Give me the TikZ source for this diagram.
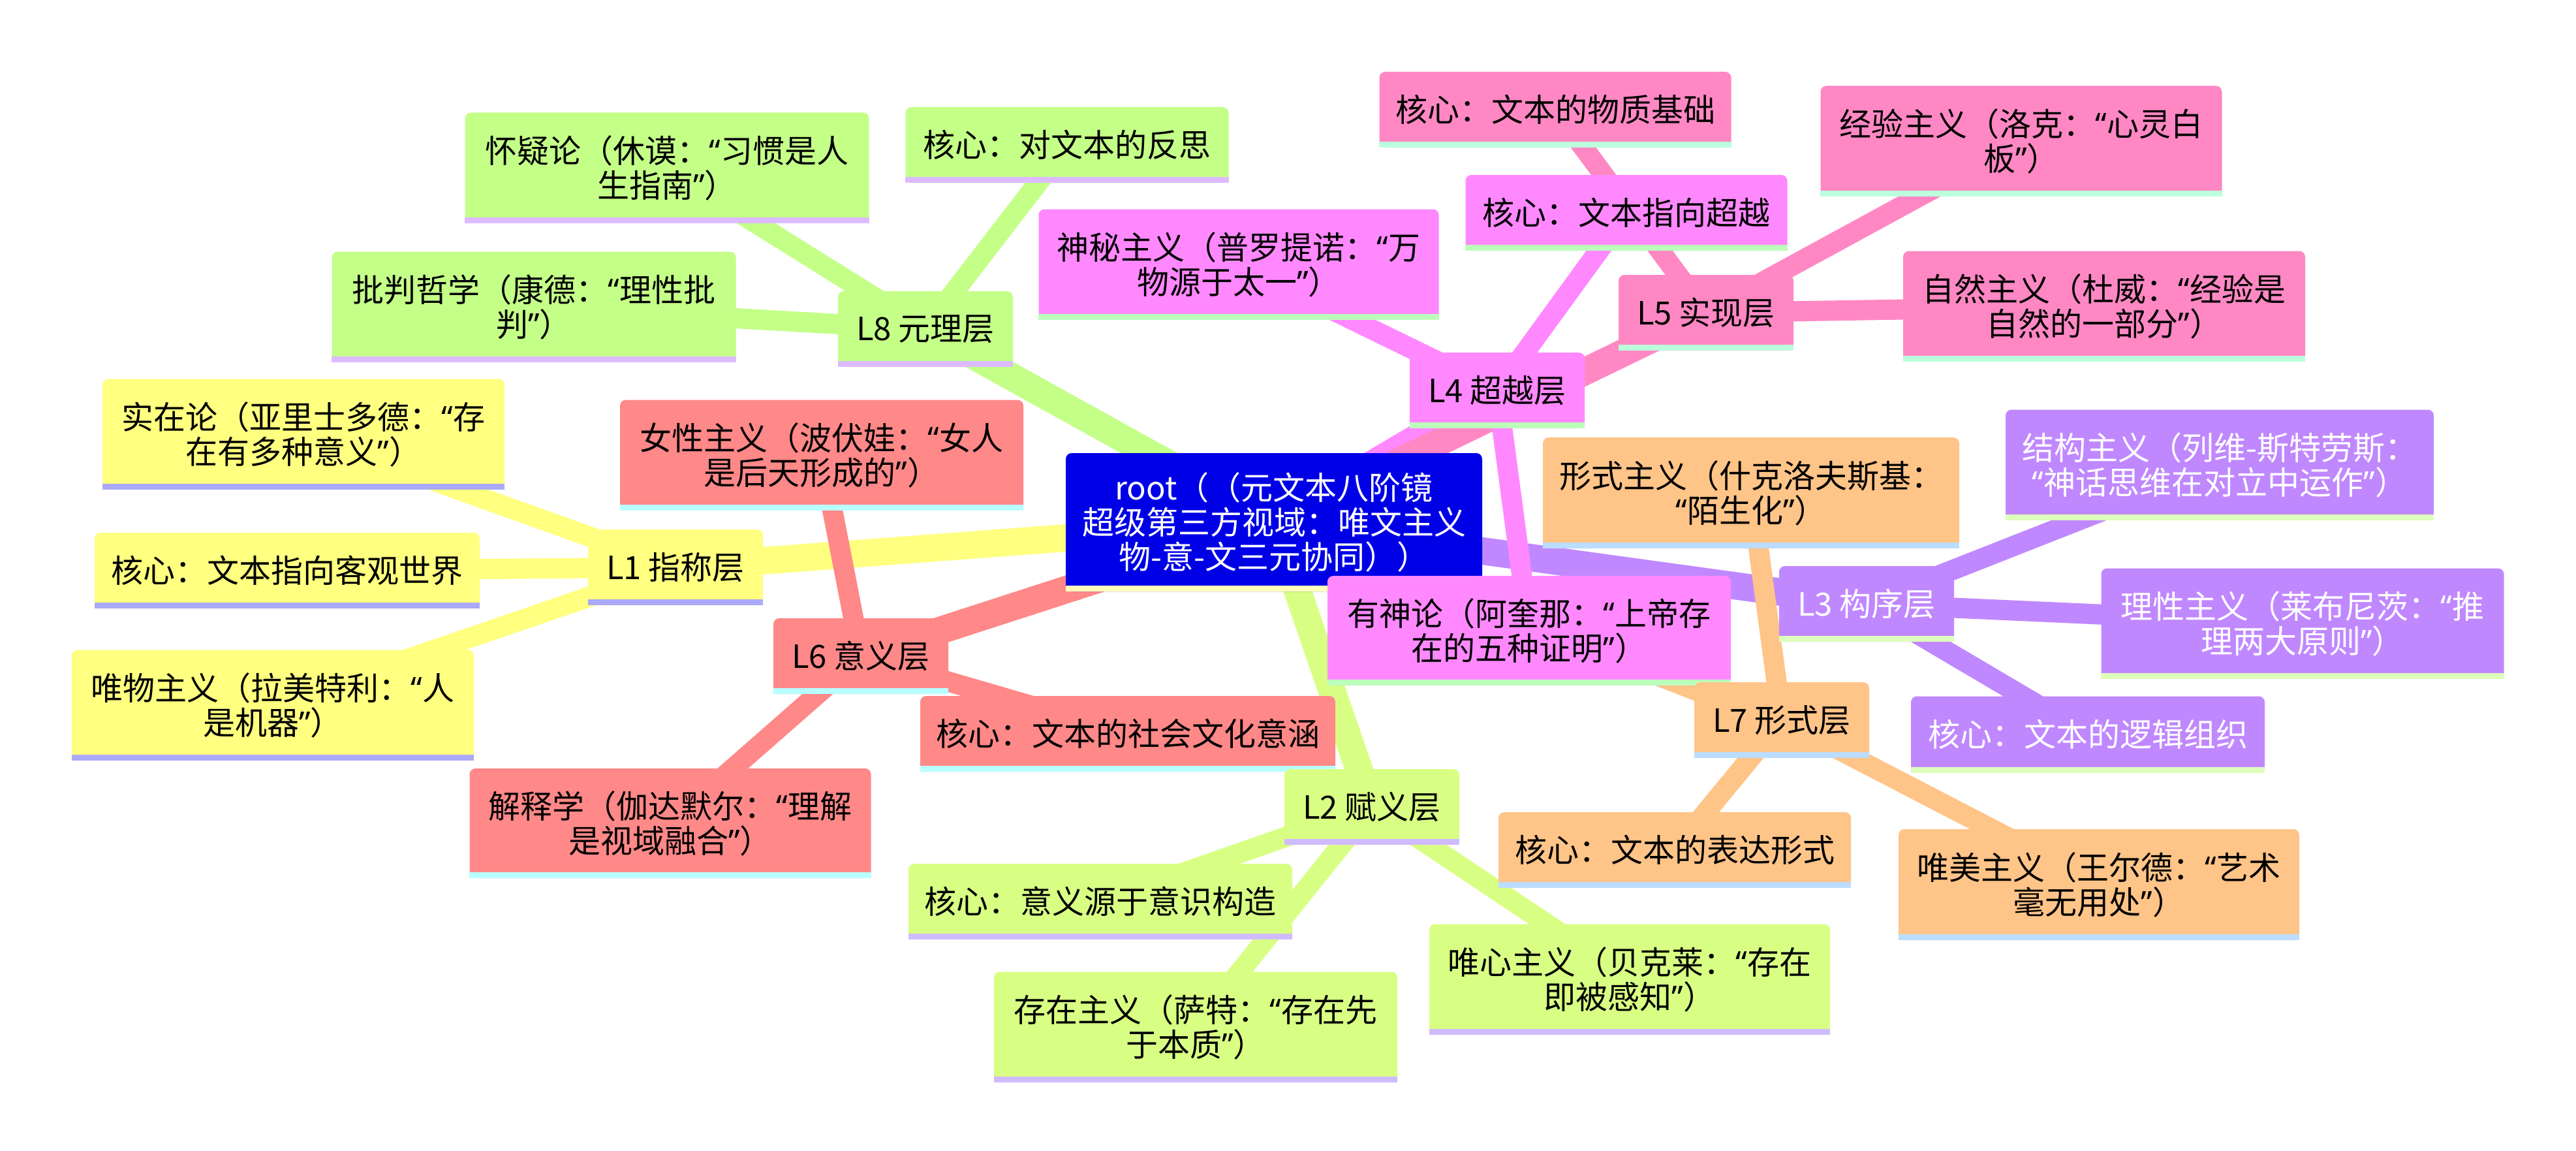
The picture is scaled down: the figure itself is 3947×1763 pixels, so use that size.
\documentclass[tikz,border=0pt]{standalone}
\usepackage{fontspec}
\setmainfont{Noto Sans CJK SC}
\newfontfamily\mmqfont{Noto Sans}
\newcommand\mmlq{{\mmqfont “}}
\newcommand\mmrq{{\mmqfont ”}}
\pgfdeclarelayer{bg}
\pgfdeclarelayer{edges}
\pgfsetlayers{bg,edges,main}
\definecolor{cL1}{HTML}{FFFF80}\definecolor{sL1}{HTML}{AAAAF8}
\definecolor{cL8}{HTML}{C4FF88}\definecolor{sL8}{HTML}{DDBBFF}
\definecolor{cL6}{HTML}{FF8888}\definecolor{sL6}{HTML}{B8FFFF}
\definecolor{cL2}{HTML}{D8FF84}\definecolor{sL2}{HTML}{D0BBFF}
\definecolor{cL4}{HTML}{FF88FF}\definecolor{sL4}{HTML}{BBFFBB}
\definecolor{cL5}{HTML}{FF88C4}\definecolor{sL5}{HTML}{BBFFDD}
\definecolor{cL3}{HTML}{C088FF}\definecolor{sL3}{HTML}{DDFFBB}
\definecolor{cL7}{HTML}{FFC488}\definecolor{sL7}{HTML}{BBDDFF}
\definecolor{croot}{HTML}{0000E6}\definecolor{sroot}{HTML}{FFFFBB}
\newcommand\mmfont{\fontsize{49pt}{53pt}\selectfont}
\newcommand\mmstrip{black}
\newcommand\mmn[7]{%
  \node[#1, minimum width=#5pt, minimum height=#6pt] (#2) at (#3,#4) {#7};
  \fill[\mmstrip] (#2.south west) rectangle ([yshift=9pt]#2.south east);
}
\tikzset{
  mmbox/.style={rectangle, rounded corners=9pt, inner sep=0pt, align=center, font=\mmfont, text=black, draw=none},
  stripcol/.code={\gdef\mmstrip{#1}},
  broot/.style={mmbox, fill=croot, text=white, stripcol=sroot},
  bL1/.style={mmbox, fill=cL1, stripcol=sL1},
  bL8/.style={mmbox, fill=cL8, stripcol=sL8},
  bL6/.style={mmbox, fill=cL6, stripcol=sL6},
  bL2/.style={mmbox, fill=cL2, stripcol=sL2},
  bL4/.style={mmbox, fill=cL4, stripcol=sL4},
  bL5/.style={mmbox, fill=cL5, stripcol=sL5},
  bL3/.style={mmbox, fill=cL3, text=white, stripcol=sL3},
  bL7/.style={mmbox, fill=cL7, stripcol=sL7},
  rootedge/.style={line width=42pt},
  leafedge/.style={line width=31pt},
}
\begin{document}
\begin{tikzpicture}[x=1pt,y=-1pt]
\useasboundingbox (0,0) rectangle (3947,1763);
\begin{pgfonlayer}{bg}
\fill[white] (0,0) rectangle (3947,1763);
\end{pgfonlayer}
% root
\mmn{broot}{root}{1952}{800}{638}{212}{root（（元文本八阶镜\\超级第三方视域：唯文主义\\物-意-文三元协同））}
% L1
\mmn{bL1}{L1}{1035}{869}{268}{116}{L1 指称层}
\mmn{bL1}{sz1}{465}{665}{616}{169}{实在论（亚里士多德：\mmlq 存\\在有多种意义\mmrq）}
\mmn{bL1}{hx1}{440}{874}{590}{116}{核心：文本指向客观世界}
\mmn{bL1}{wz1}{418}{1080}{616}{169}{唯物主义（拉美特利：\mmlq 人\\是机器\mmrq）}
% L8
\mmn{bL8}{L8}{1418}{504}{268}{116}{L8 元理层}
\mmn{bL8}{hy8}{1022}{257}{619}{169}{怀疑论（休谟：\mmlq 习惯是人\\生指南\mmrq）}
\mmn{bL8}{pp8}{818}{470}{619}{169}{批判哲学（康德：\mmlq 理性批\\判\mmrq）}
\mmn{bL8}{hx8}{1635}{222}{495}{116}{核心：对文本的反思}
% L6
\mmn{bL6}{L6}{1319}{1005}{268}{116}{L6 意义层}
\mmn{bL6}{nx6}{1259}{697}{618}{169}{女性主义（波伏娃：\mmlq 女人\\是后天形成的\mmrq）}
\mmn{bL6}{hx6}{1728}{1124}{636}{116}{核心：文本的社会文化意涵}
\mmn{bL6}{js6}{1027}{1261}{615}{168}{解释学（伽达默尔：\mmlq 理解\\是视域融合\mmrq）}
% L2
\mmn{bL2}{L2}{2102}{1236}{268}{116}{L2 赋义层}
\mmn{bL2}{hx2}{1686}{1381}{588}{116}{核心：意义源于意识构造}
\mmn{bL2}{cz2}{1832}{1573}{618}{169}{存在主义（萨特：\mmlq 存在先\\于本质\mmrq）}
\mmn{bL2}{wx2}{2497}{1500}{614}{169}{唯心主义（贝克莱：\mmlq 存在\\即被感知\mmrq）}
% L4
\mmn{bL4}{L4}{2294}{598}{268}{116}{L4 超越层}
\mmn{bL4}{sm4}{1898}{405}{613}{169}{神秘主义（普罗提诺：\mmlq 万\\物源于太一\mmrq）}
\mmn{bL4}{hx4}{2492}{326}{493}{116}{核心：文本指向超越}
\mmn{bL4}{ys4}{2343}{966}{618}{168}{有神论（阿奎那：\mmlq 上帝存\\在的五种证明\mmrq）}
% L5
\mmn{bL5}{L5}{2614}{479}{268}{116}{L5 实现层}
\mmn{bL5}{hx5}{2383}{168}{539}{116}{核心：文本的物质基础}
\mmn{bL5}{jy5}{3097}{216}{615}{169}{经验主义（洛克：\mmlq 心灵白\\板\mmrq）}
\mmn{bL5}{zr5}{3224}{469}{616}{169}{自然主义（杜威：\mmlq 经验是\\自然的一部分\mmrq）}
% L3
\mmn{bL3}{L3}{2860}{925}{268}{116}{L3 构序层}
\mmn{bL3}{jg3}{3401}{712}{656}{169}{结构主义（列维-斯特劳斯：\\\mmlq 神话思维在对立中运作\mmrq）}
\mmn{bL3}{lx3}{3528}{955}{617}{169}{理性主义（莱布尼茨：\mmlq 推\\理两大原则\mmrq）}
\mmn{bL3}{hx3}{3199}{1125}{542}{117}{核心：文本的逻辑组织}
% L7
\mmn{bL7}{L7}{2730}{1103}{268}{116}{L7 形式层}
\mmn{bL7}{xs7}{2683}{755}{638}{170}{形式主义（什克洛夫斯基：\\\mmlq 陌生化\mmrq）}
\mmn{bL7}{hx7}{2566}{1302}{540}{116}{核心：文本的表达形式}
\mmn{bL7}{wm7}{3216}{1355}{614}{170}{唯美主义（王尔德：\mmlq 艺术\\毫无用处\mmrq）}
% edges
\begin{pgfonlayer}{edges}
\draw[rootedge, draw=cL1] (root.center) -- (L1.center);
\draw[rootedge, draw=cL2] (root.center) -- (L2.center);
\draw[rootedge, draw=cL3] (root.center) -- (L3.center);
\draw[rootedge, draw=cL4] (root.center) -- (L4.center);
\draw[rootedge, draw=cL5] (root.center) -- (L5.center);
\draw[rootedge, draw=cL6] (root.center) -- (L6.center);
\draw[rootedge, draw=cL7] (root.center) -- (L7.center);
\draw[rootedge, draw=cL8] (root.center) -- (L8.center);
\foreach \c in {sz1,hx1,wz1} \draw[leafedge, draw=cL1] (L1.center) -- (\c.center);
\foreach \c in {hx2,cz2,wx2} \draw[leafedge, draw=cL2] (L2.center) -- (\c.center);
\foreach \c in {jg3,lx3,hx3} \draw[leafedge, draw=cL3] (L3.center) -- (\c.center);
\foreach \c in {sm4,hx4,ys4} \draw[leafedge, draw=cL4] (L4.center) -- (\c.center);
\foreach \c in {hx5,jy5,zr5} \draw[leafedge, draw=cL5] (L5.center) -- (\c.center);
\foreach \c in {nx6,hx6,js6} \draw[leafedge, draw=cL6] (L6.center) -- (\c.center);
\foreach \c in {xs7,hx7,wm7} \draw[leafedge, draw=cL7] (L7.center) -- (\c.center);
\foreach \c in {hy8,pp8,hx8} \draw[leafedge, draw=cL8] (L8.center) -- (\c.center);
\end{pgfonlayer}
\end{tikzpicture}
\end{document}
